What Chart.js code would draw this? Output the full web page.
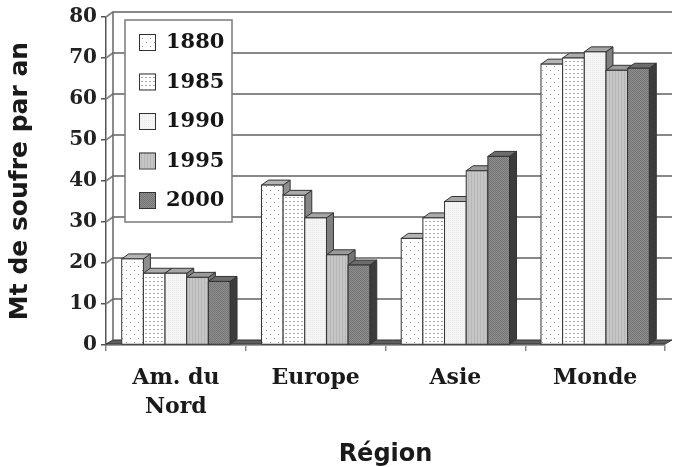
<!DOCTYPE html>
<html>
<head>
<meta charset="utf-8">
<script src="https://cdn.jsdelivr.net/npm/chart.js@4.4.0/dist/chart.umd.min.js"></script>
<style>
  html, body { margin: 0; padding: 0; background: #fff; }
</style>
</head>
<body>
<canvas id="sulfurChart" width="673" height="467"></canvas>
<script>
const regions = [['Am. du', 'Nord'], 'Europe', 'Asie', 'Monde'];
const years = ['1880', '1985', '1990', '1995', '2000'];
const values1880 = [21, 39, 26, 68.5];
const values1985 = [17.5, 36.5, 31, 70];
const values1990 = [17.5, 31, 35, 71.5];
const values1995 = [16.5, 22, 42.5, 67];
const values2000 = [15.5, 19.5, 46, 67.5];
const yTickValues = [0, 10, 20, 30, 40, 50, 60, 70, 80];

const ctx = document.getElementById('sulfurChart').getContext('2d');

// small tiles to imitate the old Excel hatch fills
function makePattern(bg, size, draw) {
  const c = document.createElement('canvas');
  c.width = size;
  c.height = size;
  const g = c.getContext('2d');
  g.fillStyle = bg;
  g.fillRect(0, 0, size, size);
  draw(g);
  return ctx.createPattern(c, 'repeat');
}

const fills = [
  makePattern('#ffffff', 8, (g) => {
    g.fillStyle = '#9a9a9a';
    g.fillRect(2, 2, 1, 1);
    g.fillRect(6, 6, 1, 1);
  }),
  makePattern('#ffffff', 4, (g) => {
    g.fillStyle = '#a8a8a8';
    g.fillRect(1, 1, 2, 1);
  }),
  makePattern('#f5f5f5', 2, (g) => {
    g.fillStyle = '#ebebeb';
    g.fillRect(0, 0, 1, 1);
  }),
  makePattern('#c6c6c6', 3, (g) => {
    g.fillStyle = '#b6b6b6';
    g.fillRect(0, 0, 1, 3);
  }),
  makePattern('#8e8e8e', 2, (g) => {
    g.fillStyle = '#757575';
    g.fillRect(0, 0, 1, 1);
    g.fillRect(1, 1, 1, 1);
  }),
];
const topColors = ['#b4b4b4', '#ababab', '#a6a6a6', '#9a9a9a', '#6c6c6c'];
const sideColors = ['#8e8e8e', '#888888', '#808080', '#747474', '#3c3c3c'];
const outline = '#333333';
const dx = 7;
const dy = 5;

const fake3d = {
  id: 'fake3d',
  beforeDatasetsDraw(chart) {
    const { ctx, chartArea: a, scales } = chart;
    const y = scales.y;
    ctx.save();
    // floor
    ctx.beginPath();
    ctx.moveTo(a.left, a.bottom - 1);
    ctx.lineTo(a.left + dx, a.bottom - dy);
    ctx.lineTo(a.right + dx, a.bottom - dy);
    ctx.lineTo(a.right, a.bottom - 1);
    ctx.closePath();
    ctx.fillStyle = '#5e5e5e';
    ctx.fill();
    ctx.strokeStyle = outline;
    ctx.lineWidth = 1;
    ctx.stroke();
    // gridlines on side wall + back wall
    ctx.strokeStyle = '#888888';
    ctx.lineWidth = 2;
    y.ticks.forEach((t) => {
      if (t.value === 0) return;
      const py = y.getPixelForValue(t.value);
      ctx.beginPath();
      ctx.moveTo(a.left, py);
      ctx.lineTo(a.left + dx, py - dy);
      ctx.lineTo(a.right + dx, py - dy);
      ctx.stroke();
    });
    ctx.lineWidth = 1.5;
    ctx.strokeStyle = '#666666';
    ctx.beginPath();
    ctx.moveTo(a.left + dx, a.top - dy);
    ctx.lineTo(a.left + dx, a.bottom - dy);
    ctx.stroke();
    ctx.restore();
  },
  afterDatasetsDraw(chart) {
    const { ctx } = chart;
    ctx.save();
    ctx.lineWidth = 1;
    ctx.strokeStyle = outline;
    // left to right inside each group so the next bar hides the side face
    chart.data.datasets.forEach((ds, i) => {
      chart.getDatasetMeta(i).data.forEach((bar) => {
        const { x, y, base, width } = bar.getProps(['x', 'y', 'base', 'width'], true);
        const l = x - width / 2;
        const r = x + width / 2;
        // side
        ctx.beginPath();
        ctx.moveTo(r, y);
        ctx.lineTo(r + dx, y - dy);
        ctx.lineTo(r + dx, base - dy);
        ctx.lineTo(r, base);
        ctx.closePath();
        ctx.fillStyle = sideColors[i];
        ctx.fill();
        ctx.stroke();
        // top
        ctx.beginPath();
        ctx.moveTo(l, y);
        ctx.lineTo(l + dx, y - dy);
        ctx.lineTo(r + dx, y - dy);
        ctx.lineTo(r, y);
        ctx.closePath();
        ctx.fillStyle = topColors[i];
        ctx.fill();
        ctx.stroke();
        // front
        ctx.fillStyle = fills[i];
        ctx.fillRect(l, y, width, base - y);
        ctx.strokeRect(l, y, width, base - y);
      });
    });
    ctx.restore();
  },
  afterDraw(chart) {
    const { ctx } = chart;
    ctx.save();
    ctx.fillStyle = '#ffffff';
    ctx.fillRect(125, 20, 107, 202);
    ctx.strokeStyle = '#7a7a7a';
    ctx.lineWidth = 1.5;
    ctx.strokeRect(125, 20, 107, 202);
    ctx.font = 'bold 21px "DejaVu Serif"';
    ctx.textBaseline = 'middle';
    chart.data.datasets.forEach((ds, i) => {
      const cy = 42 + i * 39.5;
      ctx.fillStyle = fills[i];
      ctx.fillRect(139, cy - 8, 16, 16);
      ctx.strokeStyle = outline;
      ctx.lineWidth = 1;
      ctx.strokeRect(139.5, cy - 7.5, 16, 16);
      ctx.fillStyle = '#151515';
      ctx.fillText(ds.label, 166, cy + 1);
    });
    ctx.restore();
  },
};

const seriesValues = [values1880, values1985, values1990, values1995, values2000];

new Chart(ctx, {
  type: 'bar',
  data: {
    labels: regions,
    datasets: years.map((yr, i) => ({
      label: yr,
      data: seriesValues[i],
      backgroundColor: 'rgba(0,0,0,0)',
      borderWidth: 0,
      categoryPercentage: 0.775,
      barPercentage: 1,
    })),
  },
  options: {
    responsive: false,
    animation: false,
    devicePixelRatio: 1,
    layout: { padding: { top: 17, right: 8, left: 0, bottom: 0 } },
    plugins: {
      legend: { display: false },
      tooltip: { enabled: false },
    },
    scales: {
      x: {
        grid: {
          drawOnChartArea: false,
          drawTicks: true,
          tickLength: 6,
          color: '#8a8a8a',
          lineWidth: 1.5,
          offset: true,
        },
        border: { display: true, color: '#a0a0a0', width: 2 },
        ticks: {
          color: '#1a1a1a',
          font: { family: 'DejaVu Serif', weight: 'bold', size: 22, lineHeight: 1.35 },
          padding: 12,
          maxRotation: 0,
          autoSkip: false,
        },
        title: {
          display: true,
          text: 'Région',
          color: '#1a1a1a',
          font: { family: 'DejaVu Sans', weight: 'bold', size: 24, lineHeight: 1.0 },
          padding: { top: 0, bottom: 0 },
        },
        afterFit: (s) => { s.height = 122; },
      },
      y: {
        min: yTickValues[0],
        max: yTickValues[yTickValues.length - 1],
        ticks: {
          stepSize: yTickValues[1] - yTickValues[0],
          color: '#222222',
          font: { family: 'DejaVu Serif', weight: 'bold', size: 20 },
          padding: 4,
        },
        grid: { drawOnChartArea: false, tickLength: 5, color: '#555555', lineWidth: 1.5 },
        border: { color: '#555555', width: 1.5 },
        title: {
          display: true,
          text: 'Mt de soufre par an',
          color: '#1a1a1a',
          font: { family: 'DejaVu Sans', weight: 'bold', size: 25 },
          padding: { top: 5, bottom: 0 },
        },
        afterFit: (s) => { s.width = 106; },
      },
    },
  },
  plugins: [fake3d],
});
</script>
</body>
</html>
